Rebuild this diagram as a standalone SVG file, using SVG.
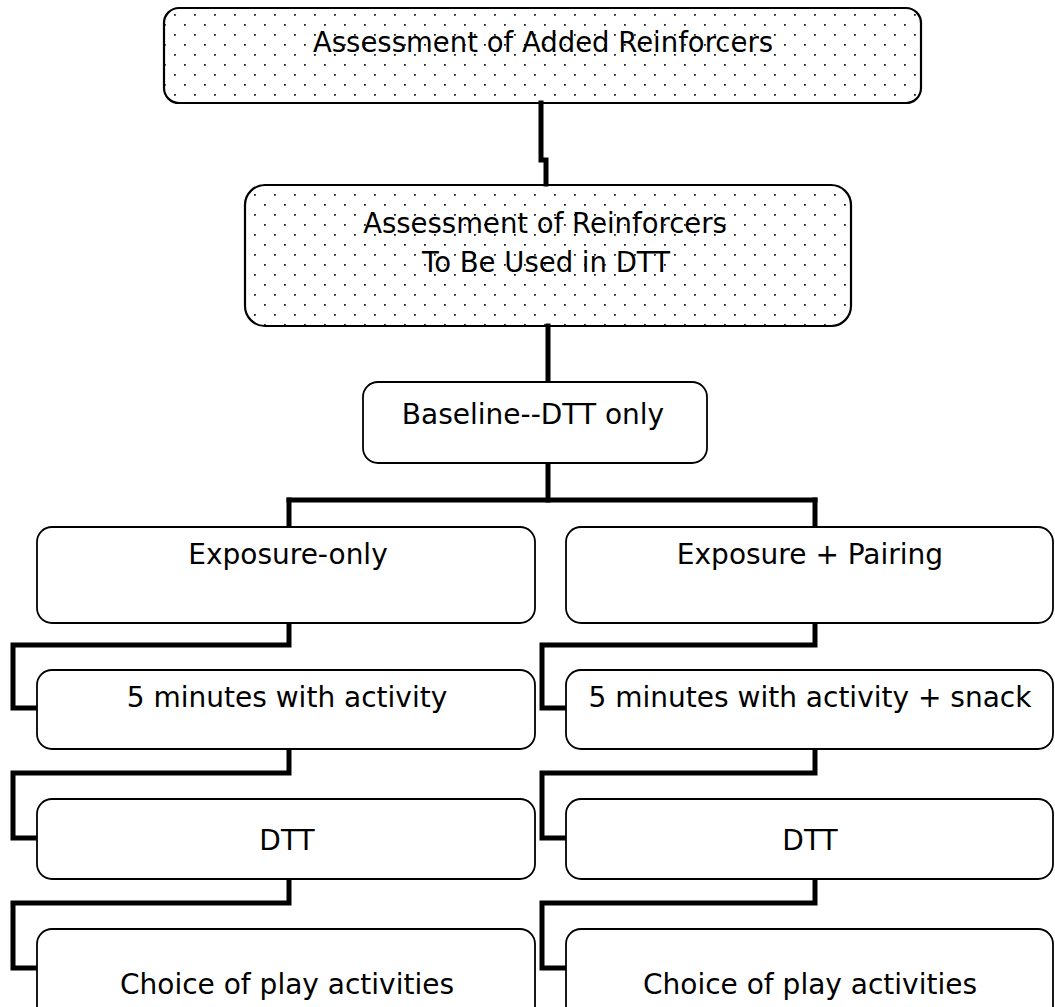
<svg xmlns="http://www.w3.org/2000/svg" width="1055" height="1007" viewBox="0 0 1055 1007">
<defs>
<pattern id="dots" x="0" y="0" width="20" height="20" patternUnits="userSpaceOnUse">
<rect x="4" y="4" width="1.8" height="1.8" fill="#222"/>
<rect x="14" y="14" width="1.8" height="1.8" fill="#222"/>
</pattern>
<style>
.box{fill:#fff;stroke:#000;stroke-width:1.8}
.dot{fill:url(#dots);stroke:#000;stroke-width:2.2}
.conn{fill:none;stroke:#000;stroke-width:5;stroke-linejoin:miter;stroke-linecap:square}
text{font-family:"DejaVu Sans","Liberation Sans",sans-serif;font-size:28px;fill:#000;text-anchor:middle}
.sm{font-size:27.5px}
</style>
</defs>
<rect width="1055" height="1007" fill="#fff"/>
<g id="connectors">
<path class="conn" d="M541,103 V160 H546 V184"/>
<path class="conn" d="M548,326 V381"/>
<path class="conn" d="M548,463 V500"/>
<path class="conn" d="M289,500 H815"/>
<path class="conn" d="M289,500 V526"/>
<path class="conn" d="M815,500 V526"/>
<path class="conn" d="M289,623 V645 H13 V708 H36"/>
<path class="conn" d="M289,749 V773 H13 V838 H36"/>
<path class="conn" d="M289,879 V903 H13 V968 H36"/>
<path class="conn" d="M815,623 V645 H542 V708 H565"/>
<path class="conn" d="M815,749 V773 H542 V838 H565"/>
<path class="conn" d="M815,879 V903 H542 V968 H565"/>
</g>
<g id="n1"><rect class="dot" x="164" y="8" width="757" height="95" rx="15"/><text class="sm" x="543" y="52">Assessment of Added Reinforcers</text></g>
<g id="n2"><rect class="dot" x="245" y="185" width="606" height="141" rx="20"/><text class="sm" x="545" y="233">Assessment of Reinforcers</text><text class="sm" x="546" y="272">To Be Used in DTT</text></g>
<g id="n3"><rect class="box" x="363" y="382" width="344" height="81" rx="15"/><text x="533" y="424">Baseline--DTT only</text></g>
<g id="n4"><rect class="box" x="37" y="527" width="498" height="96" rx="15"/><text x="288" y="564">Exposure-only</text></g>
<g id="n5"><rect class="box" x="566" y="527" width="487" height="96" rx="15"/><text x="810" y="564">Exposure + Pairing</text></g>
<g id="n6"><rect class="box" x="37" y="670" width="498" height="79" rx="15"/><text x="287" y="707">5 minutes with activity</text></g>
<g id="n7"><rect class="box" x="566" y="670" width="487" height="79" rx="15"/><text x="810" y="707">5 minutes with activity + snack</text></g>
<g id="n8"><rect class="box" x="37" y="799" width="498" height="80" rx="15"/><text x="287" y="850">DTT</text></g>
<g id="n9"><rect class="box" x="566" y="799" width="487" height="80" rx="15"/><text x="810" y="850">DTT</text></g>
<g id="n10"><rect class="box" x="37" y="929" width="498" height="100" rx="15"/><text x="287" y="994">Choice of play activities</text></g>
<g id="n11"><rect class="box" x="566" y="929" width="487" height="100" rx="15"/><text x="810" y="994">Choice of play activities</text></g>
</svg>
